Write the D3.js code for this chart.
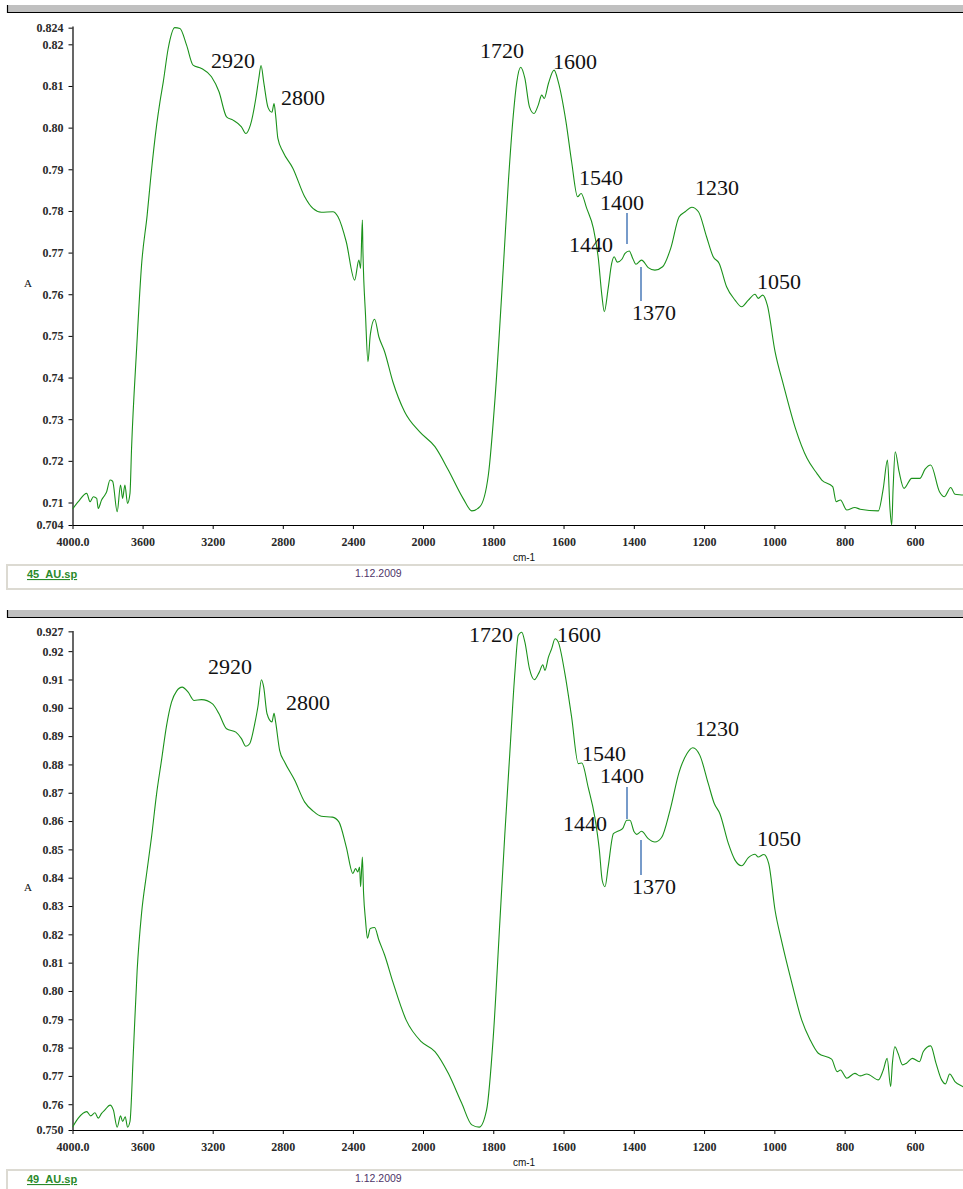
<!DOCTYPE html>
<html>
<head>
<meta charset="utf-8">
<script src="https://cdn.jsdelivr.net/npm/d3@7"></script>
<style>
  html, body { margin: 0; padding: 0; background: #fff; }
  svg { display: block; }
</style>
</head>
<body>
<svg id="chart" width="963" height="1189"></svg>
<script>
// ---- axis ticks ----
const xTickValues = [4000, 3600, 3200, 2800, 2400, 2000, 1800, 1600, 1400, 1200, 1000, 800, 600];
const xTickLabels = ["4000.0", "3600", "3200", "2800", "2400", "2000", "1800", "1600", "1400", "1200", "1000", "800", "600"];

const topYTicks = [0.704, 0.71, 0.72, 0.73, 0.74, 0.75, 0.76, 0.77, 0.78, 0.79, 0.80, 0.81, 0.82, 0.824];
const topYTickLabels = ["0.704", "0.71", "0.72", "0.73", "0.74", "0.75", "0.76", "0.77", "0.78", "0.79", "0.80", "0.81", "0.82", "0.824"];
const bottomYTicks = [0.750, 0.76, 0.77, 0.78, 0.79, 0.80, 0.81, 0.82, 0.83, 0.84, 0.85, 0.86, 0.87, 0.88, 0.89, 0.90, 0.91, 0.92, 0.927];
const bottomYTickLabels = ["0.750", "0.76", "0.77", "0.78", "0.79", "0.80", "0.81", "0.82", "0.83", "0.84", "0.85", "0.86", "0.87", "0.88", "0.89", "0.90", "0.91", "0.92", "0.927"];

// ---- spectrum 45_AU.sp (wavenumber cm-1, absorbance) ----
const topWavenumber = [4000, 3967, 3919, 3900, 3881, 3862, 3853, 3834, 3815, 3805, 3786, 3771, 3745, 3726, 3714, 3701, 3686, 3672, 3663, 3634,
  3606, 3574, 3554, 3520, 3501, 3482, 3454, 3416, 3387, 3349, 3312, 3264, 3207, 3164, 3121, 3084, 3036, 3011, 2985, 2954,
  2937, 2924, 2909, 2884, 2862, 2850, 2841, 2828, 2799, 2742, 2675, 2628, 2580, 2514, 2485, 2438, 2390, 2366, 2356, 2346,
  2343, 2328, 2314, 2301, 2276, 2252, 2219, 2172, 2105, 2020, 1966, 1928, 1886, 1861, 1838, 1814, 1795, 1771, 1757, 1743,
  1733, 1722, 1710, 1697, 1684, 1672, 1662, 1655, 1643, 1627, 1615, 1593, 1577, 1560, 1550, 1534, 1515, 1501, 1491, 1484,
  1473, 1463, 1456, 1447, 1434, 1425, 1413, 1403, 1394, 1378, 1359, 1340, 1318, 1295, 1271, 1254, 1235, 1216, 1193, 1174,
  1157, 1136, 1112, 1093, 1074, 1055, 1046, 1033, 1020, 998, 974, 940, 907, 879, 865, 834, 824, 812, 794, 771,
  756, 704, 690, 678, 671, 666, 662, 656, 645, 631, 609, 586, 571, 555, 530, 516, 498, 486, 463, 450];
const topAbsorbance = [0.7084, 0.7102, 0.7122, 0.7102, 0.7114, 0.7110, 0.7086, 0.7106, 0.7118, 0.7126, 0.7154, 0.7151, 0.7078, 0.7142, 0.7110, 0.7142, 0.7098, 0.7122, 0.7230, 0.7470,
  0.7670, 0.7790, 0.7878, 0.8006, 0.8062, 0.8110, 0.8190, 0.8240, 0.8238, 0.8198, 0.8150, 0.8142, 0.8122, 0.8086, 0.8026, 0.8018, 0.8002, 0.7986, 0.8006, 0.8070,
  0.8118, 0.8149, 0.8110, 0.8048, 0.8037, 0.8058, 0.8030, 0.7974, 0.7942, 0.7902, 0.7834, 0.7806, 0.7797, 0.7798, 0.7786, 0.7726, 0.7634, 0.7682, 0.7662, 0.7778,
  0.7710, 0.7550, 0.7438, 0.7502, 0.7540, 0.7498, 0.7462, 0.7390, 0.7318, 0.7270, 0.7234, 0.7178, 0.7110, 0.7080, 0.7090, 0.7166, 0.7350, 0.7670, 0.7870, 0.8030,
  0.8110, 0.8145, 0.8118, 0.8050, 0.8034, 0.8054, 0.8078, 0.8070, 0.8106, 0.8138, 0.8110, 0.8014, 0.7918, 0.7834, 0.7842, 0.7806, 0.7758, 0.7686, 0.7598, 0.7558,
  0.7614, 0.7674, 0.7690, 0.7677, 0.7684, 0.7698, 0.7704, 0.7686, 0.7672, 0.7682, 0.7664, 0.7658, 0.7666, 0.7710, 0.7786, 0.7798, 0.7809, 0.7798, 0.7738, 0.7690,
  0.7674, 0.7618, 0.7586, 0.7570, 0.7586, 0.7600, 0.7590, 0.7598, 0.7574, 0.7462, 0.7382, 0.7278, 0.7206, 0.7170, 0.7154, 0.7138, 0.7102, 0.7106, 0.7082, 0.7088,
  0.7084, 0.7080, 0.7134, 0.7202, 0.7086, 0.7046, 0.7134, 0.7222, 0.7174, 0.7134, 0.7158, 0.7158, 0.7180, 0.7190, 0.7126, 0.7114, 0.7136, 0.7120, 0.7118, 0.7116];

// ---- spectrum 49_AU.sp (wavenumber cm-1, absorbance) ----
const bottomWavenumber = [4000, 3967, 3919, 3896, 3872, 3853, 3834, 3815, 3786, 3767, 3745, 3726, 3714, 3699, 3686, 3672, 3653, 3631, 3606, 3577,
  3549, 3520, 3492, 3463, 3435, 3406, 3374, 3340, 3306, 3264, 3201, 3164, 3121, 3068, 3036, 3011, 2989, 2960, 2941, 2922,
  2909, 2890, 2862, 2850, 2841, 2818, 2789, 2732, 2675, 2628, 2580, 2517, 2480, 2438, 2400, 2385, 2372, 2362, 2356, 2346,
  2339, 2328, 2317, 2301, 2276, 2252, 2219, 2172, 2096, 2010, 1966, 1928, 1890, 1861, 1840, 1819, 1800, 1781, 1767, 1753,
  1738, 1729, 1719, 1710, 1697, 1683, 1669, 1659, 1653, 1643, 1634, 1624, 1615, 1596, 1577, 1558, 1548, 1530, 1511, 1498,
  1490, 1482, 1473, 1458, 1444, 1432, 1420, 1411, 1399, 1392, 1378, 1359, 1340, 1321, 1297, 1271, 1249, 1232, 1212, 1188,
  1171, 1155, 1131, 1112, 1093, 1074, 1055, 1046, 1030, 1016, 998, 979, 950, 922, 898, 875, 837, 821, 812, 794,
  771, 756, 737, 704, 690, 679, 669, 664, 657, 648, 635, 624, 607, 587, 576, 555, 540, 524, 513, 501,
  486, 463, 450];
const bottomAbsorbance = [0.7519, 0.7551, 0.7574, 0.7559, 0.7570, 0.7551, 0.7568, 0.7580, 0.7597, 0.7580, 0.7519, 0.7559, 0.7539, 0.7556, 0.7519, 0.7539, 0.7780, 0.8074, 0.8274, 0.8415,
  0.8544, 0.8697, 0.8815, 0.8938, 0.9020, 0.9059, 0.9073, 0.9055, 0.9026, 0.9029, 0.9014, 0.8979, 0.8926, 0.8914, 0.8891, 0.8864, 0.8873, 0.8944, 0.9008, 0.9099,
  0.9073, 0.8979, 0.8950, 0.8981, 0.8950, 0.8850, 0.8808, 0.8744, 0.8667, 0.8636, 0.8617, 0.8614, 0.8597, 0.8509, 0.8415, 0.8432, 0.8420, 0.8438, 0.8368, 0.8473,
  0.8344, 0.8250, 0.8186, 0.8221, 0.8224, 0.8180, 0.8127, 0.8032, 0.7897, 0.7821, 0.7786, 0.7709, 0.7604, 0.7527, 0.7519, 0.7580, 0.7838, 0.8250, 0.8556, 0.8838,
  0.9132, 0.9255, 0.9267, 0.9232, 0.9138, 0.9099, 0.9126, 0.9152, 0.9132, 0.9179, 0.9208, 0.9244, 0.9232, 0.9120, 0.8967, 0.8803, 0.8805, 0.8720, 0.8614, 0.8497,
  0.8391, 0.8368, 0.8438, 0.8556, 0.8565, 0.8573, 0.8603, 0.8603, 0.8562, 0.8553, 0.8564, 0.8538, 0.8526, 0.8542, 0.8638, 0.8773, 0.8838, 0.8859, 0.8832, 0.8732,
  0.8662, 0.8626, 0.8521, 0.8462, 0.8442, 0.8471, 0.8483, 0.8473, 0.8482, 0.8450, 0.8285, 0.8174, 0.8027, 0.7897, 0.7827, 0.7780, 0.7759, 0.7715, 0.7721, 0.7692,
  0.7709, 0.7700, 0.7707, 0.7686, 0.7721, 0.7762, 0.7662, 0.7745, 0.7803, 0.7780, 0.7739, 0.7745, 0.7762, 0.7750, 0.7786, 0.7806, 0.7745, 0.7686, 0.7672, 0.7707,
  0.7680, 0.7662, 0.7655];

// ---- band labels ----
const bandLabels = ["2920", "2800", "1720", "1600", "1540", "1400", "1440", "1370", "1230", "1050"];
const fileNames = ["45_AU.sp", "49_AU.sp"];
const fileDate = "1.12.2009";

// ---- layout ----
const W = 963;
const plotLeft = 72.5;
const plotRight = 967.6;
// the wavenumber axis is expanded twofold below 2000 cm-1
const xScale = d3.scaleLinear().domain([4000, 2000, 450]).range([plotLeft, 423, plotRight]);

const panels = [
  {
    offset: 0, top: 26, bottom: 525, domain: [0.7046, 0.8244],
    ticks: topYTicks, tickLabels: topYTickLabels,
    wn: topWavenumber, ab: topAbsorbance, file: fileNames[0],
    // text start x / baseline y for each band label, in bandLabels order
    labelPos: [[211, 68], [281, 105], [480, 58], [553, 69], [579, 185], [600, 210], [569, 252], [632, 320], [695, 195], [757, 289]],
    leaders: [[627, 213, 244], [641, 267, 301]]
  },
  {
    offset: 605, top: 630.5, bottom: 1130, domain: [0.7509, 0.9273],
    ticks: bottomYTicks, tickLabels: bottomYTickLabels,
    wn: bottomWavenumber, ab: bottomAbsorbance, file: fileNames[1],
    labelPos: [[208, 674], [286, 710], [469, 642], [557, 642], [582, 761], [600, 783], [563, 831], [632, 894], [695, 736], [757, 846]],
    leaders: [[627, 787, 819], [641, 840, 875]]
  }
];

const tickFont = "Liberation Serif, Times New Roman, serif";

const svg = d3.select("#chart");
svg.append("rect").attr("width", W).attr("height", 1189).attr("fill", "#fff");

panels.forEach((p, pi) => {
  const g = svg.append("g");
  const o = p.offset;
  const yScale = d3.scaleLinear().domain(p.domain).range([p.bottom, p.top]).clamp(true);

  // window header bar
  g.append("rect").attr("x", 7).attr("y", 5 + o).attr("width", W).attr("height", 7).attr("fill", "#c0c0c0");
  g.append("line").attr("x1", 7).attr("x2", W).attr("y1", 12.5 + o).attr("y2", 12.5 + o).attr("stroke", "#000").attr("stroke-width", 1.2);
  g.append("line").attr("x1", 7.5).attr("x2", 7.5).attr("y1", 5 + o).attr("y2", 13 + o).attr("stroke", "#000").attr("stroke-width", 1.2);

  // clip for the spectrum
  const clipId = "clip" + pi;
  svg.append("clipPath").attr("id", clipId)
    .append("rect").attr("x", plotLeft).attr("y", p.top - 2).attr("width", W - plotLeft).attr("height", p.bottom - p.top + 3);

  // y axis
  const yAxis = d3.axisLeft(yScale)
    .tickValues(p.ticks)
    .tickFormat((d, i) => p.tickLabels[i])
    .tickSizeInner(4).tickSizeOuter(0).tickPadding(5);
  const yg = g.append("g").attr("transform", `translate(${plotLeft},0)`).call(yAxis);
  yg.select(".domain").attr("stroke", "#000").attr("stroke-width", 1.2);
  yg.selectAll(".tick line").attr("stroke", "#000");
  yg.selectAll(".tick text").attr("font-family", tickFont)
    .attr("font-size", 12).attr("font-weight", "bold").attr("fill", "#2a2a2a");

  // x axis
  const xAxis = d3.axisBottom(xScale)
    .tickValues(xTickValues)
    .tickFormat((d, i) => xTickLabels[i])
    .tickSizeInner(4).tickSizeOuter(0).tickPadding(8);
  const xg = g.append("g").attr("transform", `translate(0,${p.bottom})`).call(xAxis);
  xg.select(".domain").attr("stroke", "#000").attr("stroke-width", 1.2);
  xg.selectAll(".tick line").attr("stroke", "#000");
  xg.selectAll(".tick text").attr("font-family", tickFont)
    .attr("font-size", 12).attr("font-weight", "bold").attr("fill", "#2a2a2a");

  // axis titles
  g.append("text").attr("x", 28).attr("y", (p.top + p.bottom) / 2 + 11)
    .attr("text-anchor", "middle").attr("font-family", "Liberation Serif, serif").attr("font-size", 11)
    .attr("fill", "#111").text("A");
  g.append("text").attr("x", 524).attr("y", p.bottom + 36)
    .attr("text-anchor", "middle").attr("font-family", "Liberation Sans, Arial, sans-serif").attr("font-size", 10)
    .attr("fill", "#111").text("cm-1");

  // spectrum line
  const pts = p.wn.map((w, i) => [w, p.ab[i]]);
  const line = d3.line()
    .x(d => xScale(d[0]))
    .y(d => yScale(d[1]))
    .curve(d3.curveMonotoneX);
  g.append("path").datum(pts)
    .attr("clip-path", `url(#${clipId})`)
    .attr("fill", "none").attr("stroke", "#1b921b").attr("stroke-width", 1.1)
    .attr("stroke-linejoin", "round")
    .attr("d", line);

  // band labels
  g.selectAll("text.band").data(bandLabels).join("text")
    .attr("class", "band")
    .attr("x", (d, i) => p.labelPos[i][0])
    .attr("y", (d, i) => p.labelPos[i][1])
    .attr("font-family", "Liberation Serif, Times New Roman, serif")
    .attr("font-size", 22).attr("fill", "#111")
    .text(d => d);

  // leader lines for 1400 and 1370
  p.leaders.forEach(l => {
    g.append("line").attr("x1", l[0]).attr("x2", l[0]).attr("y1", l[1]).attr("y2", l[2])
      .attr("stroke", "#4a7ab8").attr("stroke-width", 1.5);
  });

  // file status bar
  const fy = p.bottom + 40;
  g.append("rect").attr("x", 7).attr("y", fy).attr("width", W + 10).attr("height", 24)
    .attr("fill", "#fff").attr("stroke", "#dcdad2").attr("stroke-width", 2);
  g.append("text").attr("x", 27).attr("y", fy + 13)
    .attr("font-family", "Liberation Sans, Arial, sans-serif").attr("font-size", 11).attr("font-weight", "bold")
    .attr("fill", "#2a8a2a").attr("text-decoration", "underline").text(p.file);
  g.append("text").attr("x", 355).attr("y", fy + 12)
    .attr("font-family", "Liberation Sans, Arial, sans-serif").attr("font-size", 10.5)
    .attr("fill", "#4e3468").text(fileDate);
});
</script>
</body>
</html>
